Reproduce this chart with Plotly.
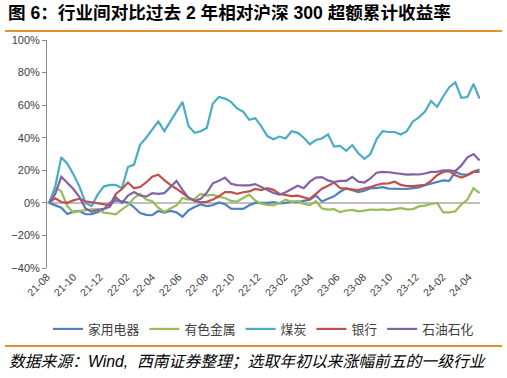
import pandas as pd
import plotly.graph_objects as go

# biweekly observation dates, 2021-08 .. 2024-04
dates = pd.date_range("2021-08-06", "2024-04-26", freq="14D")

names = ["家用电器", "有色金属", "煤炭", "银行", "石油石化"]
colors = ["#4F81BD", "#9BBB59", "#4BACC6", "#C0504D", "#8064A2"]

home_appliance = [0, -1.5, -3, -6.8, -5.4, -5, -7, -7, -5.8, -4, 0, 1.5, 1, 0.2, -2.7, -6.2, -7.4, -7.6,
                  -5, -6, -5, -5.8, -8.5, -4.5, -2.5, -1, -2, -1.5, 0.2, -0.8, -3.5, -3.5, -3.7, -1.5,
                  0, 0, 0, 0.5, -0.3, 0, 0.8, 0.5, 1.4, 2, 4.5, 0.8, 2.5, 4, 6.8, 9, 7.8, 6.6, 7.5, 9,
                  9, 9.6, 8.8, 8.7, 8.5, 8.5, 9, 9.5, 10.8, 11.8, 13.2, 13.8, 13.5, 19, 17.5, 17.3, 19.2, 20.5]

nonferrous = [0, 9.5, 7, -2, -6, -5, -4.5, -4, -4, -6, -6.5, -7, -4, -1.5, 3, 5.5, 2, 1,
              -3, -5.5, -3.5, -1.6, 3, 2, 2.5, 5.5, 4.5, 5, 3.7, 3, 1.2, 0.8, 3, 5,
              1.4, -0.5, -1.2, -1.5, 0, 2, 0.6, 1, -0.6, -1.4, 1, -3.5, -4.1, -3.9, -5.7, -4.7, -4.3, -5.2,
              -4.8, -4.1, -4.3, -4, -4.5, -3.8, -3.3, -4, -3.8, -2.2, -1.7, -0.7, 0, -5.8, -5.8, -5.2, -1, 2, 9, 6]

coal = [0, 10, 28, 24, 17.5, 10, 0, -2, 5, 10, 11, 11, 9, 22, 23.5, 35.6, 40, 45,
        50, 44, 50, 56, 62, 47, 43, 44, 46, 61, 65, 64, 62, 58, 56, 51,
        52, 47, 41, 39, 40.7, 39.5, 44, 43, 40, 36, 38.6, 39.5, 42, 34.5, 35, 32, 35.5, 30.5,
        27, 30, 39, 44, 43.5, 43.5, 42, 44, 50, 52.5, 56, 62.5, 59, 65.3, 71, 74, 64.5, 65, 73, 64]

bank = [0.4, 2.8, 0.5, 0, 1.5, 2.5, 1, 0.4, 0, -1, -1.5, 5.5, 8.5, 12.5, 9, 9.7, 12.5, 16,
        17.3, 14, 11, 8.7, 6, 3.3, 1.2, 0.4, 0.6, 2, 4, 6.6, 6.6, 5.6, 6.5, 7,
        8.5, 7.8, 9, 8, 5.5, 5, 4.2, 4.4, 3.5, 2.4, 5.5, 8.7, 10.5, 12.5, 9, 8.5, 8.2, 7.8,
        9, 9.7, 11, 11.8, 12, 13, 11, 10.3, 10.3, 10.7, 11, 13.5, 17, 19, 19.5, 17, 15.5, 17, 19, 19]

petro = [0, 5.5, 16, 12.5, 8.5, 3.5, -3.5, -5.5, -4.3, -3.7, -2.5, 3.5, 0, 4.5, 6.6, 4.5, 3.8, 6,
         5.5, 6, 10, 13.5, 8, 3, 1.2, 2.5, 6.2, 12, 13.5, 15.5, 11.7, 10.9, 10.7, 10.7,
         11.5, 9.5, 7.6, 6, 5, 6.5, 8.5, 10.5, 9, 13, 15.5, 15.8, 13.8, 12.8, 13.5, 13.5, 15.9, 13,
         12.5, 15, 18.5, 19, 18.8, 18.3, 17.5, 17.3, 17.5, 17.4, 18, 19, 19, 20, 20, 19.5, 23, 28, 30, 26]

series = [home_appliance, nonferrous, coal, bank, petro]

title_text = "图 6：行业间对比过去 2 年相对沪深 300 超额累计收益率"
source_text = "数据来源：<i>Wind,</i>  西南证券整理；选取年初以来涨幅前五的一级行业"

FONT = "Liberation Sans, Arial, Noto Sans CJK SC, sans-serif"
CJK = "Noto Sans CJK SC, sans-serif"

fig = go.Figure()
for name, col, vals in zip(names, colors, series):
    fig.add_trace(go.Scatter(x=dates, y=vals, mode="lines", name=name,
                             line=dict(color=col, width=2.2)))

fig.update_layout(
    width=507, height=378,
    margin=dict(l=47, r=27, t=40, b=110),
    paper_bgcolor="white", plot_bgcolor="white",
    font=dict(family=FONT, color="#404040", size=11),
    showlegend=True,
    legend=dict(orientation="h", x=0.5, xanchor="center", y=-0.268, yanchor="middle",
                font=dict(family=CJK, size=12.8, color="#404040"),
                itemwidth=30, tracegroupgap=0, bgcolor="rgba(0,0,0,0)"),
    xaxis=dict(type="date", range=["2021-08-01", "2024-04-27"],
               tickformat="%y-%m", dtick="M2", tick0="2021-08-01",
               tickangle=-45, showgrid=False, showline=False, zeroline=False,
               ticks="", tickfont=dict(size=10.5, color="#404040")),
    yaxis=dict(range=[-40, 100], dtick=20, ticksuffix="%", showgrid=False,
               showline=True, linecolor="#8C8C8C", linewidth=1,
               ticks="outside", ticklen=4, tickcolor="#8C8C8C",
               zeroline=True, zerolinecolor="#BFBFBF", zerolinewidth=1.5,
               tickfont=dict(size=11, color="#404040")),
)

# header / footer rules
fig.add_shape(type="line", xref="paper", yref="paper", x0=-0.097, x1=1.051, y0=1.0395, y1=1.0395,
              line=dict(color="#E0922F", width=2))
fig.add_shape(type="line", xref="paper", yref="paper", x0=-0.097, x1=1.051, y0=-0.342, y1=-0.342,
              line=dict(color="#E0922F", width=2))

fig.add_annotation(text=f"<b>{title_text}</b>", xref="paper", yref="paper",
                   x=-0.095, y=1.118, xanchor="left", yanchor="middle", showarrow=False,
                   font=dict(family=FONT, size=17.6, color="#000000"))
fig.add_annotation(text=f"<i>{source_text}</i>", xref="paper", yref="paper",
                   x=-0.092, y=-0.412, xanchor="left", yanchor="middle", showarrow=False,
                   font=dict(family=FONT, size=15.8, color="#000000"))

fig.write_html("out.html", config={"displayModeBar": False},
               post_script="document.body.style.margin='0';")
